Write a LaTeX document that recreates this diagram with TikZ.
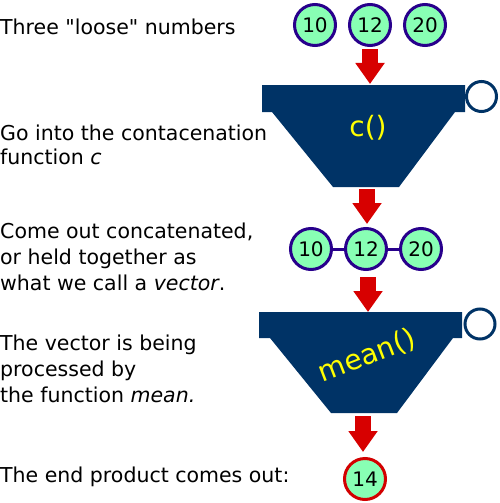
\documentclass[tikz,border=0pt]{standalone}
\usepackage{fontspec}
\setmainfont{DejaVu Sans}
\newfontfamily\qfont{DejaVu Sans}
\usetikzlibrary{arrows.meta}
\definecolor{navy}{RGB}{0,51,102}
\definecolor{arrred}{RGB}{215,0,0}
\definecolor{numfill}{RGB}{136,255,180}
\definecolor{numedge}{RGB}{40,0,140}
\definecolor{resedge}{RGB}{210,0,0}
\definecolor{lbl}{RGB}{255,255,0}
\begin{document}
\begin{tikzpicture}[x=1pt,y=-1pt,
  txt/.style={anchor=base west,inner sep=0pt,font=\fontsize{20.5}{24}\selectfont},
  num/.style={circle,draw=numedge,fill=numfill,line width=3pt,minimum size=41pt,inner sep=0pt,font=\fontsize{20}{24}\selectfont},
  res/.style={num,draw=resedge},
  bigarrow/.style={draw=arrred,line width=16pt,-{Triangle[width=28pt,length=21pt]}},
  funnel/.style={fill=navy},
  handle/.style={draw=navy,fill=white,line width=3pt},
  fname/.style={text=lbl,inner sep=0pt,font=\fontsize{28}{30}\selectfont}]
\useasboundingbox (0,0) rectangle (500,503);
% left texts
\node[txt,font=\fontsize{20.5}{24}\qfont] (t1) at (0,35) {Three "loose" numbers};
\node[txt] (t2a) at (0,140) {Go into the contacenation};
\node[txt] (t2b) at (0,164) {function \textit{c}};
\node[txt] (t3a) at (0,238) {Come out concatenated,};
\node[txt] (t3b) at (0,264) {or held together as};
\node[txt] (t3c) at (0,290) {what we call a \textit{vector}.};
\node[txt] (t4a) at (0,350) {The vector is being};
\node[txt] (t4b) at (0,376) {processed by};
\node[txt] (t4c) at (0,402) {the function \textit{mean.}};
\node[txt] (t5) at (0,482) {The end product comes out:};
% loose numbers
\node[num] (a10) at (315,25) {10};
\node[num] (a12) at (370,25) {12};
\node[num] (a20) at (425,25) {20};
% funnel c
\fill[funnel] (262,85) -- (465,85) -- (465,112) -- (455,112) -- (399,187) -- (333,187) -- (272,112) -- (262,112) -- cycle;
\draw[handle] (481.5,96.5) circle (15);
\node[fname] (fc) at (368,128) {c()};
% vector
\node[num] (v10) at (311,249) {10};
\node[num] (v12) at (366,249) {12};
\node[num] (v20) at (421,249) {20};
\draw[numedge,line width=3pt] (v10) -- (v12) (v12) -- (v20);
% funnel mean
\fill[funnel] (259,312) -- (462,312) -- (462,338) -- (453,338) -- (397,413) -- (331,413) -- (270,338) -- (259,338) -- cycle;
\draw[handle] (480,324) circle (15);
\node[fname,rotate=21] (fm) at (367,356) {mean()};
% result
\node[res] (r14) at (365,479) {14};
% arrows
\coordinate (s1) at (370,49); \coordinate (e1) at (370,84);
\coordinate (s2) at (367,189); \coordinate (e2) at (367,224);
\coordinate (s3) at (368,277); \coordinate (e3) at (368,312);
\coordinate (s4) at (363,416); \coordinate (e4) at (363,452);
\draw[bigarrow] (s1) -- (e1);
\draw[bigarrow] (s2) -- (e2);
\draw[bigarrow] (s3) -- (e3);
\draw[bigarrow] (s4) -- (e4);
\end{tikzpicture}
\end{document}
